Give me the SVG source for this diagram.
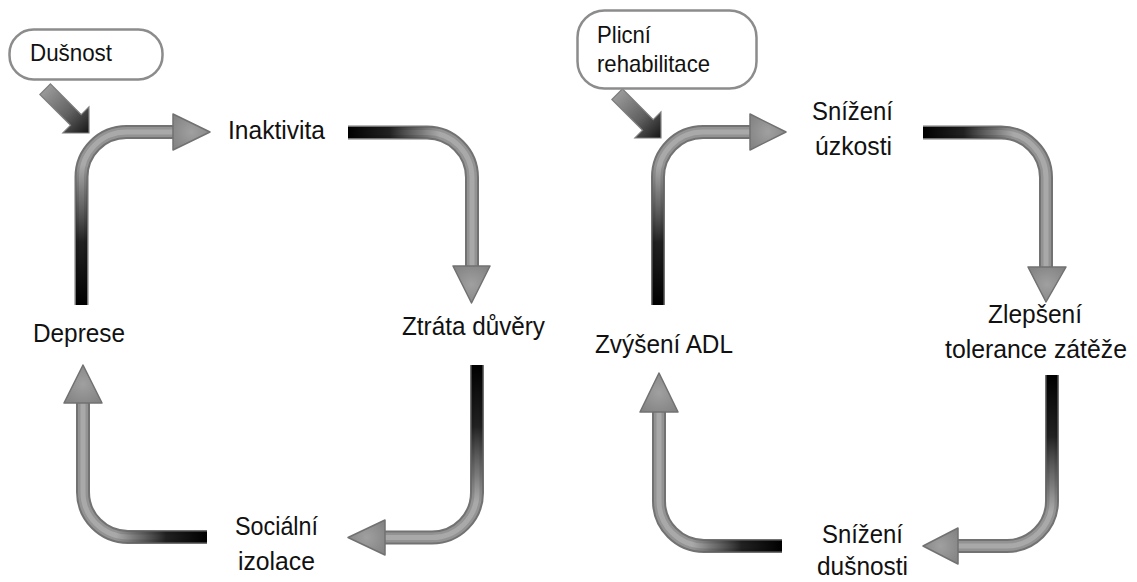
<svg xmlns="http://www.w3.org/2000/svg" xmlns:xlink="http://www.w3.org/1999/xlink" width="1137" height="582" viewBox="0 0 1137 582">
<style>
.lbl{font-family:"Liberation Sans",Arial,sans-serif;font-size:26px;fill:#111}
.blbl{font-family:"Liberation Sans",Arial,sans-serif;font-size:24px;fill:#111}
.box{fill:#fff;stroke:#8c8c8c;stroke-width:2.5}
.o{fill:none;stroke:#727272;stroke-width:14}
.i{fill:none;stroke:#939393;stroke-width:10}
.h{fill:none;stroke:#a9a9a9;stroke-width:5}
.d{fill:none;stroke-width:11}
.head{fill:url(#headG);stroke:#717171;stroke-width:1.5;stroke-linejoin:round}
.ptr{fill:url(#ptrG);stroke:#7d7d7d;stroke-width:1.2}
</style>
<defs>
<linearGradient id="darkBase">
<stop offset="0" stop-color="#000" stop-opacity="1"/>
<stop offset="0.45" stop-color="#0a0a0a" stop-opacity="0.85"/>
<stop offset="0.8" stop-color="#222" stop-opacity="0.35"/>
<stop offset="1" stop-color="#333" stop-opacity="0"/>
</linearGradient>
<linearGradient id="gA1" href="#darkBase" gradientUnits="userSpaceOnUse" x1="81.5" y1="305" x2="81.5" y2="165"/>
<linearGradient id="gA2" href="#darkBase" gradientUnits="userSpaceOnUse" x1="348" y1="132" x2="440" y2="132"/>
<linearGradient id="gA3" href="#darkBase" gradientUnits="userSpaceOnUse" x1="477" y1="365" x2="477" y2="502"/>
<linearGradient id="gA4" href="#darkBase" gradientUnits="userSpaceOnUse" x1="207" y1="537" x2="116" y2="537"/>
<linearGradient id="gB1" href="#darkBase" gradientUnits="userSpaceOnUse" x1="658" y1="305" x2="658" y2="165"/>
<linearGradient id="gB2" href="#darkBase" gradientUnits="userSpaceOnUse" x1="923" y1="132" x2="1014" y2="132"/>
<linearGradient id="gB3" href="#darkBase" gradientUnits="userSpaceOnUse" x1="1052" y1="375" x2="1052" y2="512"/>
<linearGradient id="gB4" href="#darkBase" gradientUnits="userSpaceOnUse" x1="782" y1="546" x2="692" y2="546"/>
<radialGradient id="headG" cx="0.5" cy="0.5" r="0.6">
<stop offset="0" stop-color="#a0a0a0"/>
<stop offset="1" stop-color="#848484"/>
</radialGradient>
<linearGradient id="ptrG" x1="0" y1="0" x2="1" y2="0">
<stop offset="0" stop-color="#9a9a9a"/>
<stop offset="0.55" stop-color="#606060"/>
<stop offset="1" stop-color="#151515"/>
</linearGradient>
<path id="pA1" d="M81.5,305 V177 A45,45 0 0 1 126.5,132 H174"/>
<path id="pA2" d="M348,132.5 H427 A45,45 0 0 1 472,177.5 V267"/>
<path id="pA3" d="M477,365 V492 A45,45 0 0 1 432,537.5 H384"/>
<path id="pA4" d="M207,537 H128 A45,45 0 0 1 83,492 V402"/>
<path id="pB1" d="M658,305 V177 A45,45 0 0 1 703,132 H751"/>
<path id="pB2" d="M923,132.5 H1001 A45,45 0 0 1 1046,177.5 V268"/>
<path id="pB3" d="M1052,375 V501 A45,45 0 0 1 1007,546 H957"/>
<path id="pB4" d="M782,546 H704 A45,45 0 0 1 659,501 V411"/>
</defs>
<rect width="1137" height="582" fill="#fff"/>

<g id="connectors">
<g id="arrow-deprese-inaktivita">
<use href="#pA1" class="o"/><use href="#pA1" class="i"/><use href="#pA1" class="h"/><use href="#pA1" class="d" stroke="url(#gA1)"/>
<polygon class="head" points="173,114 210,132 173,150"/>
</g>
<g id="arrow-inaktivita-ztrata">
<use href="#pA2" class="o"/><use href="#pA2" class="i"/><use href="#pA2" class="h"/><use href="#pA2" class="d" stroke="url(#gA2)"/>
<polygon class="head" points="453,266 490,266 471.5,303"/>
</g>
<g id="arrow-ztrata-socialni">
<use href="#pA3" class="o"/><use href="#pA3" class="i"/><use href="#pA3" class="h"/><use href="#pA3" class="d" stroke="url(#gA3)"/>
<polygon class="head" points="385,520 385,555 348,537.5"/>
</g>
<g id="arrow-socialni-deprese">
<use href="#pA4" class="o"/><use href="#pA4" class="i"/><use href="#pA4" class="h"/><use href="#pA4" class="d" stroke="url(#gA4)"/>
<polygon class="head" points="64,403 102,403 83,365"/>
</g>
<g id="arrow-adl-uzkost">
<use href="#pB1" class="o"/><use href="#pB1" class="i"/><use href="#pB1" class="h"/><use href="#pB1" class="d" stroke="url(#gB1)"/>
<polygon class="head" points="750,114 786,132 750,150"/>
</g>
<g id="arrow-uzkost-tolerance">
<use href="#pB2" class="o"/><use href="#pB2" class="i"/><use href="#pB2" class="h"/><use href="#pB2" class="d" stroke="url(#gB2)"/>
<polygon class="head" points="1028,267 1066,267 1046,302"/>
</g>
<g id="arrow-tolerance-dusnost">
<use href="#pB3" class="o"/><use href="#pB3" class="i"/><use href="#pB3" class="h"/><use href="#pB3" class="d" stroke="url(#gB3)"/>
<polygon class="head" points="958,528 958,564 923,546"/>
</g>
<g id="arrow-dusnost-adl">
<use href="#pB4" class="o"/><use href="#pB4" class="i"/><use href="#pB4" class="h"/><use href="#pB4" class="d" stroke="url(#gB4)"/>
<polygon class="head" points="640,412 678,412 659,373"/>
</g>
<g id="pointer-dusnost">
<polygon class="ptr" transform="translate(89,133) rotate(45)" points="-62,-7.5 -18.5,-7.5 -18.5,-18.4 0,0 -18.5,18.4 -18.5,7.5 -62,7.5"/>
</g>
<g id="pointer-rehabilitace">
<polygon class="ptr" transform="translate(661,138) rotate(45)" points="-62,-7.5 -18.5,-7.5 -18.5,-18.4 0,0 -18.5,18.4 -18.5,7.5 -62,7.5"/>
</g>
</g>

<g id="node-dusnost">
<rect class="box" x="9.5" y="29.5" width="153" height="50" rx="24"/>
<text class="blbl" x="30" y="61" textLength="82" lengthAdjust="spacingAndGlyphs">Dušnost</text>
</g>
<g id="node-inaktivita">
<text class="lbl" x="228" y="139" textLength="97" lengthAdjust="spacingAndGlyphs">Inaktivita</text>
</g>
<g id="node-ztrata">
<text class="lbl" x="402" y="335" textLength="143" lengthAdjust="spacingAndGlyphs">Ztráta důvěry</text>
</g>
<g id="node-socialni">
<text class="lbl" x="235" y="535" textLength="83" lengthAdjust="spacingAndGlyphs">Sociální</text>
<text class="lbl" x="238" y="570" textLength="77" lengthAdjust="spacingAndGlyphs">izolace</text>
</g>
<g id="node-deprese">
<text class="lbl" x="33" y="342" textLength="92" lengthAdjust="spacingAndGlyphs">Deprese</text>
</g>

<g id="node-rehabilitace">
<rect class="box" x="577.5" y="10.5" width="179" height="78" rx="27"/>
<text class="blbl" x="597" y="43" textLength="54" lengthAdjust="spacingAndGlyphs">Plicní</text>
<text class="blbl" x="597" y="72" textLength="113" lengthAdjust="spacingAndGlyphs">rehabilitace</text>
</g>
<g id="node-uzkost">
<text class="lbl" x="812" y="120" textLength="81" lengthAdjust="spacingAndGlyphs">Snížení</text>
<text class="lbl" x="815" y="155" textLength="77" lengthAdjust="spacingAndGlyphs">úzkosti</text>
</g>
<g id="node-tolerance">
<text class="lbl" x="988" y="323" textLength="94" lengthAdjust="spacingAndGlyphs">Zlepšení</text>
<text class="lbl" x="945" y="358" textLength="182" lengthAdjust="spacingAndGlyphs">tolerance zátěže</text>
</g>
<g id="node-dusnosti">
<text class="lbl" x="822" y="543" textLength="81" lengthAdjust="spacingAndGlyphs">Snížení</text>
<text class="lbl" x="817" y="575" textLength="91" lengthAdjust="spacingAndGlyphs">dušnosti</text>
</g>
<g id="node-adl">
<text class="lbl" x="595" y="353" textLength="138" lengthAdjust="spacingAndGlyphs">Zvýšení ADL</text>
</g>
</svg>
